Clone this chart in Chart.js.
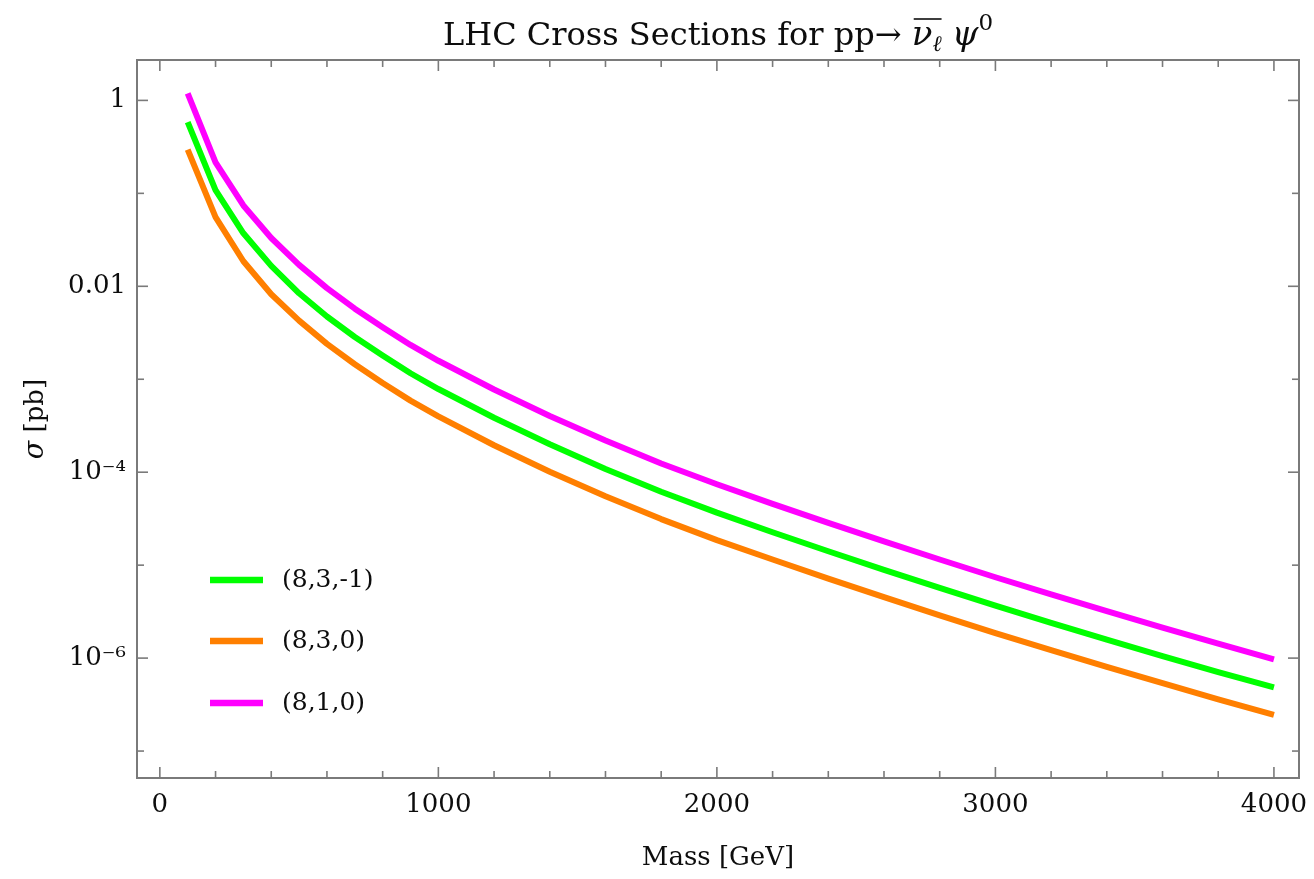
<!DOCTYPE html>
<html><head><meta charset="utf-8">
<script src="https://cdn.jsdelivr.net/npm/chart.js@4/dist/chart.umd.min.js"></script>
<style>html,body{margin:0;padding:0;background:#fff}#wrap{width:1314px;height:879px;position:relative}</style>
</head><body><div id="wrap"><canvas id="c"></canvas></div>
<script>
// ---- data ----
const masses = [100,200,300,400,500,600,700,800,900,1000,1200,1400,1600,1800,2000,2200,2400,2600,2800,3000,3200,3400,3600,3800,4000];
const sigma_8_3_m1 = [0.585,0.108,0.0372,0.0166,0.00841,0.00473,0.00285,0.00180,0.00116,7.85e-4,3.85e-4,2.00e-4,1.08e-4,6.17e-5,3.67e-5,2.26e-5,1.41e-5,8.91e-6,5.69e-6,3.67e-6,2.40e-6,1.58e-6,1.05e-6,7.08e-7,4.84e-7];
const sigma_8_3_0 = [0.295,0.0556,0.0186,0.00822,0.00427,0.00240,0.00145,9.12e-4,5.89e-4,3.98e-4,1.95e-4,1.01e-4,5.50e-5,3.13e-5,1.86e-5,1.15e-5,7.16e-6,4.52e-6,2.88e-6,1.86e-6,1.22e-6,8.04e-7,5.37e-7,3.59e-7,2.45e-7];
const sigma_8_1_0 = [1.19,0.216,0.0741,0.0331,0.0170,0.00955,0.00575,0.00363,0.00234,0.00158,7.76e-4,4.03e-4,2.19e-4,1.24e-4,7.41e-5,4.57e-5,2.85e-5,1.80e-5,1.15e-5,7.41e-6,4.84e-6,3.20e-6,2.13e-6,1.43e-6,9.68e-7];
const seriesLabels = ['(8,3,-1)','(8,3,0)','(8,1,0)'];
const seriesColors = ['#00ff00','#ff7f00','#ff00ff'];
const xTickValues = [0,1000,2000,3000,4000];
const xMinorValues = [200,400,600,800,1200,1400,1600,1800,2200,2400,2600,2800,3200,3400,3600,3800];
const yTickValues = [1e-6,1e-4,0.01,1];
const yTickLabels = ['10\u207B\u2076','10\u207B\u2074','0.01','1'];
const yMinorValues = [1e-7,1e-5,1e-3,0.1];
const titleMain = 'LHC Cross Sections for pp\u2192 ';
const titleParticle1 = '\u03BD', titleParticle1Sub = '\u2113';
const titleParticle2 = '\u03C8', titleParticle2Sup = '0';
const xTitle = 'Mass [GeV]';
const yTitleSym = '\u03C3', yTitleUnit = ' [pb]';

const SERIF = '"DejaVu Serif"';
const TXT = '#0d0d0d';
const FRAME = '#7a7a7a';

const seriesData = [sigma_8_3_m1, sigma_8_3_0, sigma_8_1_0];

const decor = {
  id: 'decor',
  afterDatasetsDraw(chart) {
    const ctx = chart.ctx, a = chart.chartArea;
    const xs = chart.scales.x, ys = chart.scales.y;
    ctx.save();
    // frame
    ctx.strokeStyle = FRAME; ctx.lineWidth = 2;
    ctx.strokeRect(a.left, a.top, a.right - a.left, a.bottom - a.top);
    ctx.lineWidth = 1.6;
    const tick = (x1,y1,x2,y2)=>{ctx.beginPath();ctx.moveTo(x1,y1);ctx.lineTo(x2,y2);ctx.stroke();};
    const MJ = 11, MN = 7;
    xTickValues.forEach(v=>{const p = xs.getPixelForValue(v); tick(p,a.bottom,p,a.bottom-MJ); tick(p,a.top,p,a.top+MJ);});
    xMinorValues.forEach(v=>{const p = xs.getPixelForValue(v); tick(p,a.bottom,p,a.bottom-MN); tick(p,a.top,p,a.top+MN);});
    yTickValues.forEach(v=>{const p = ys.getPixelForValue(v); tick(a.left,p,a.left+MJ,p); tick(a.right,p,a.right-MJ,p);});
    yMinorValues.forEach(v=>{const p = ys.getPixelForValue(v); tick(a.left,p,a.left+MN,p); tick(a.right,p,a.right-MN,p);});

    // legend
    ctx.lineCap = 'butt';
    const legY = [580, 641, 703];
    chart.data.datasets.forEach((ds,i)=>{
      ctx.strokeStyle = ds.borderColor; ctx.lineWidth = 6.5;
      tick(210, legY[i], 263, legY[i]);
      ctx.fillStyle = TXT; ctx.font = `25px ${SERIF}`; ctx.textBaseline = 'middle'; ctx.textAlign = 'left';
      ctx.fillText(ds.label, 282, legY[i]);
    });

    // title
    const F = 32;
    const reg = `${F}px ${SERIF}`, ital = `italic ${F+2}px ${SERIF}`;
    const sub = `italic ${Math.round(F*0.7)}px ${SERIF}`, sup = `${Math.round(F*0.72)}px ${SERIF}`;
    const parts = [
      {t:titleMain, f:reg, dy:0},
      {t:titleParticle1, f:ital, dy:0, over:true},
      {t:titleParticle1Sub, f:sub, dy:6, over:true},
      {t:' ', f:reg, dy:0},
      {t:titleParticle2, f:ital, dy:0},
      {t:titleParticle2Sup, f:sup, dy:-15}
    ];
    let total = 0;
    parts.forEach(p=>{ctx.font = p.f; p.w = ctx.measureText(p.t).width; total += p.w;});
    let x = (a.left + a.right)/2 - total/2;
    const base = 45;
    ctx.fillStyle = TXT; ctx.textBaseline = 'alphabetic'; ctx.textAlign = 'left';
    let ox1 = null, ox2 = null;
    parts.forEach(p=>{
      ctx.font = p.f; ctx.fillText(p.t, x, base + p.dy);
      if (p.over) { if (ox1 === null) ox1 = x; ox2 = x + p.w; }
      x += p.w;
    });
    ctx.strokeStyle = TXT; ctx.lineWidth = 1.6;
    tick(ox1+2, base-26, ox2, base-26);

    // x title
    ctx.font = `26px ${SERIF}`; ctx.textAlign = 'center'; ctx.textBaseline = 'middle';
    ctx.fillText(xTitle, (a.left + a.right)/2, 858);

    // y title (rotated)
    ctx.translate(36, (a.top + a.bottom)/2);
    ctx.rotate(-Math.PI/2);
    ctx.font = `italic 27px ${SERIF}`; const w1 = ctx.measureText(yTitleSym).width;
    ctx.font = `26px ${SERIF}`; const w2 = ctx.measureText(yTitleUnit).width;
    ctx.textAlign = 'left';
    ctx.font = `italic 27px ${SERIF}`; ctx.fillText(yTitleSym, -(w1+w2)/2, 0);
    ctx.font = `26px ${SERIF}`; ctx.fillText(yTitleUnit, -(w1+w2)/2 + w1, 0);
    ctx.restore();
  }
};

new Chart(document.getElementById('c'), {
  type: 'line',
  data: {
    datasets: seriesLabels.map((lab,i)=>({
      label: lab,
      data: masses.map((m,j)=>({x:m, y:seriesData[i][j]})),
      borderColor: seriesColors[i],
      backgroundColor: seriesColors[i],
      borderWidth: 6,
      pointRadius: 0,
      tension: 0,
      fill: false,
      borderCapStyle: 'butt',
      borderJoinStyle: 'round'
    }))
  },
  options: {
    responsive: true,
    maintainAspectRatio: false,
    animation: false,
    layout: {padding: {top: 60, right: 15, left: 0, bottom: 0}},
    plugins: {legend: {display: false}, title: {display: false}, tooltip: {enabled: false}},
    scales: {
      x: {
        type: 'linear', min: -82, max: 4090,
        afterBuildTicks: s => { s.ticks = xTickValues.map(v=>({value:v})); },
        afterFit: s => { s.height = 101; s.paddingLeft = 0; s.paddingRight = 0; },
        grid: {display: false, drawTicks: false},
        border: {display: false},
        ticks: {autoSkip: false, maxRotation: 0, padding: 12, color: TXT,
                font: {family: 'DejaVu Serif', size: 26},
                callback: v => String(v)}
      },
      y: {
        type: 'logarithmic', min: 5.13e-8, max: 2.72,
        afterBuildTicks: s => { s.ticks = yTickValues.map(v=>({value:v})); },
        afterFit: s => { s.width = 137; s.paddingTop = 0; s.paddingBottom = 0; },
        grid: {display: false, drawTicks: false},
        border: {display: false},
        ticks: {autoSkip: false, padding: 11, color: TXT,
                font: {family: 'DejaVu Serif', size: 26},
                callback: (v,i) => yTickLabels[i]}
      }
    }
  },
  plugins: [decor]
});
</script>
</body></html>
